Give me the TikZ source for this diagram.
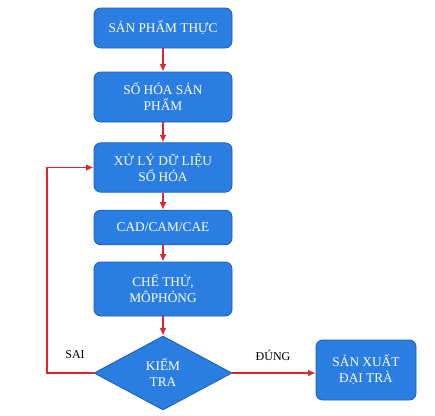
\documentclass[tikz,border=0pt]{standalone}
\usepackage{fontspec}
\setmainfont{Liberation Serif}
\usetikzlibrary{arrows.meta,shapes.geometric}
\definecolor{boxblue}{HTML}{2A7DE1}
\definecolor{edgeblue}{HTML}{1C5DAE}
\definecolor{linered}{HTML}{E0262B}

\begin{document}
\begin{tikzpicture}[
  x=0.75pt, y=-0.75pt,
  font=\normalsize,
  >=Latex,
  box/.style={draw=edgeblue, fill=boxblue, text=white, rounded corners=5pt,
    line width=0.6pt, align=center, minimum width=103.5pt, inner sep=2pt},
  check/.style={diamond, draw=edgeblue, fill=boxblue, text=white, align=center,
    line width=0.6pt, minimum width=103.5pt, minimum height=55.5pt, inner sep=0pt},
  arrow/.style={-{Latex[length=2mm,width=1.8mm]}, line width=1pt, draw=linered},
  label/.style={font=\small, text=black}
]
\useasboundingbox (0,0) rectangle (435,415);

\node[box, minimum height=30pt] (thuc) at (163,28) {SẢN PHẨM THỰC};
\node[box, minimum height=37.5pt] (sohoa) at (163,97) {SỐ HÓA SẢN\\PHẨM};
\node[box, minimum height=37pt] (xuly) at (163,167.5) {XỬ LÝ DỮ LIỆU\\SỐ HÓA};
\node[box, minimum height=26pt] (cad) at (163,227.5) {CAD/CAM/CAE};
\node[box, minimum height=40.5pt] (chethu) at (163,289) {CHẾ THỬ,\\MÔPHỎNG};
\node[check] (kiemtra) at (163,373) {KIỂM\\TRA};
\node[box, minimum width=75pt, minimum height=45pt] (daitra) at (366,370) {SẢN XUẤT\\ĐẠI TRÀ};

\coordinate (loop) at (47,373);

\draw[arrow] (thuc) -- (sohoa);
\draw[arrow] (sohoa) -- (xuly);
\draw[arrow] (xuly) -- (cad);
\draw[arrow] (cad) -- (chethu);
\draw[arrow] (chethu) -- (kiemtra);
\draw[arrow] (kiemtra.east) -- (daitra.west |- kiemtra.east);
\draw[arrow] (kiemtra.west) -- (loop) |- (xuly.west);

\node[label] (sai) at (75,355) {SAI};
\node[label] (dung) at (273,355) {ĐÚNG};

\end{tikzpicture}
\end{document}
